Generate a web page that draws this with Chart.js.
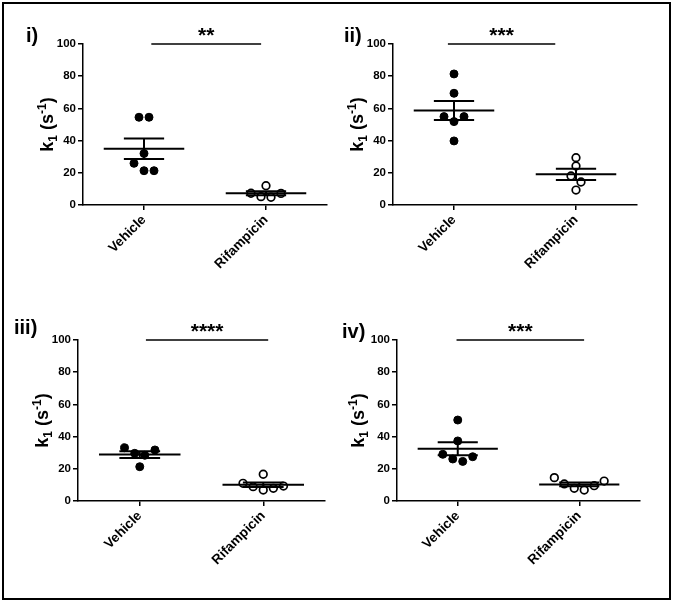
<!DOCTYPE html>
<html>
<head>
<meta charset="utf-8">
<script src="https://cdn.jsdelivr.net/npm/chart.js@4.4.0/dist/chart.umd.min.js"></script>
<style>
    body { margin: 0; width: 673px; height: 603px; background: #fff; position: relative; overflow: hidden; }
    .frame { position: absolute; left: 2px; top: 2px; width: 669px; height: 598px; box-sizing: border-box; border: 2px solid #000; }
    canvas { position: absolute; }
</style>
</head>
<body>
<div class="frame"></div>
<script>
// Data (k1 in s^-1)
const categories = ['Vehicle', 'Rifampicin'];
const panelLabels = ['i)', 'ii)', 'iii)', 'iv)'];
const yTickValues = [0, 20, 40, 60, 80, 100];

const vehicle1 = [54.5, 54.5, 32, 25.9, 21.3, 21.3];
const rifampicin1 = [12.0, 7.3, 7.2, 5.2, 4.8];
const vehicle2 = [81.4, 69.4, 54.9, 54.9, 51.8, 39.8];
const rifampicin2 = [29.4, 24.2, 18, 14.3, 9.3];
const vehicle3 = [33.1, 31.7, 29.6, 28.4, 21.3];
const rifampicin3 = [16.6, 11, 9.3, 8.9, 7.9, 6.8];
const vehicle4 = [50.3, 37.3, 29, 27.5, 26.1, 24.6];
const rifampicin4 = [14.5, 12.4, 10.6, 9.5, 7.9, 6.8];

// significance brackets (x in category units, drawn at y = 100)
const sigStars = ['**', '***', '****', '***'];
const sigStart = [1.06, 0.95, 1.05, 0.99];
const sigEnd = [1.96, 1.83, 2.04, 2.04];

const groups = [
    [vehicle1, rifampicin1],
    [vehicle2, rifampicin2],
    [vehicle3, rifampicin3],
    [vehicle4, rifampicin4]
];

// page layout of each panel (canvas box + wanted plot area)
const panelBoxes = [
    { left: 0,   top: 0,   w: 336, h: 300, area: { l: 83, r: 327, t: 44, b: 205 }, label: [26, 42], titleGap: 30 },
    { left: 336, top: 0,   w: 337, h: 300, area: { l: 57, r: 301, t: 44, b: 205 }, label: [8, 42],  titleGap: 30 },
    { left: 0,   top: 300, w: 336, h: 303, area: { l: 78, r: 325, t: 40, b: 201 }, label: [14, 34], titleGap: 30 },
    { left: 336, top: 300, w: 337, h: 303, area: { l: 61, r: 304, t: 40, b: 201 }, label: [6, 38],  titleGap: 33 }
];

const FONT = "'Liberation Sans', Arial, sans-serif";
const PX_PER_Y = 1.61;   // approx pixels per k1 unit
const PX_PER_X = 122;    // approx pixels per category unit
const CHAIN_PX = 7.5;
const SPACING_PX = 10;

// simple scatter-dot layout: near-equal values sit side by side
function swarm(values, center) {
    const sorted = values.slice().sort((a, b) => b - a);
    const rows = [];
    let row = [sorted[0]];
    for (let k = 1; k < sorted.length; k++) {
        if ((row[row.length - 1] - sorted[k]) * PX_PER_Y < CHAIN_PX) {
            row.push(sorted[k]);
        } else {
            rows.push(row);
            row = [sorted[k]];
        }
    }
    rows.push(row);

    const points = [];
    rows.forEach(r => {
        const n = r.length;
        let lo = 0, hi = n - 1;
        r.forEach((v, k) => {
            const slot = (k % 2 === 0) ? lo++ : hi--;
            const off = (slot - (n - 1) / 2) * SPACING_PX / PX_PER_X;
            points.push({ x: center + off, y: v });
        });
    });
    return points;
}

function meanSem(values) {
    const n = values.length;
    const m = values.reduce((a, b) => a + b, 0) / n;
    const sd = Math.sqrt(values.reduce((a, b) => a + (b - m) * (b - m), 0) / (n - 1));
    return { m: m, s: sd / Math.sqrt(n) };
}

function segment(x1, y1, x2, y2, width) {
    return {
        data: [{ x: x1, y: y1 }, { x: x2, y: y2 }],
        showLine: true,
        pointRadius: 0,
        borderColor: '#000',
        borderWidth: width,
        clip: false
    };
}

const decorPlugin = {
    id: 'decor',
    afterDraw(chart) {
        const p = chart.options.plugins.decor;
        const ctx = chart.ctx;
        const area = chart.chartArea;
        ctx.save();
        ctx.fillStyle = '#000';

        // panel label
        ctx.font = 'bold 20px ' + FONT;
        ctx.textAlign = 'left';
        ctx.textBaseline = 'alphabetic';
        ctx.fillText(p.label, p.labelPos[0], p.labelPos[1]);

        // significance stars
        const sx = chart.scales.x.getPixelForValue((p.sigStart + p.sigEnd) / 2);
        const sy = chart.scales.y.getPixelForValue(100);
        ctx.font = 'bold 21px ' + FONT;
        ctx.textAlign = 'center';
        ctx.fillText(p.stars, sx, sy - 2);

        // y axis title: k1 (s-1)
        const parts = [
            { t: 'k', size: 18, dy: 0 },
            { t: '1', size: 12, dy: 4 },
            { t: ' (s', size: 18, dy: 0 },
            { t: '-1', size: 12, dy: -7.5 },
            { t: ')', size: 18, dy: 0 }
        ];
        let total = 0;
        parts.forEach(pt => {
            ctx.font = 'bold ' + pt.size + 'px ' + FONT;
            pt.w = ctx.measureText(pt.t).width;
            total += pt.w;
        });
        ctx.translate(area.left - p.titleGap, (area.top + area.bottom) / 2);
        ctx.rotate(-Math.PI / 2);
        ctx.textAlign = 'left';
        let x = -total / 2;
        parts.forEach(pt => {
            ctx.font = 'bold ' + pt.size + 'px ' + FONT;
            ctx.fillText(pt.t, x, pt.dy);
            x += pt.w;
        });
        ctx.restore();
    }
};

panelBoxes.forEach((box, i) => {
    const canvas = document.createElement('canvas');
    canvas.width = box.w;
    canvas.height = box.h;
    canvas.style.left = box.left + 'px';
    canvas.style.top = box.top + 'px';
    document.body.appendChild(canvas);

    const datasets = [];
    // mean and SEM lines first so they sit on top of the dots
    groups[i].forEach((vals, g) => {
        const c = g + 1;
        const st = meanSem(vals);
        datasets.push(segment(c - 0.33, st.m, c + 0.33, st.m, 2));
        datasets.push(segment(c - 0.165, st.m + st.s, c + 0.165, st.m + st.s, 2));
        datasets.push(segment(c - 0.165, st.m - st.s, c + 0.165, st.m - st.s, 2));
        datasets.push(segment(c, st.m - st.s, c, st.m + st.s, 2));
    });
    datasets.push(segment(sigStart[i], 100, sigEnd[i], 100, 1.5));

    datasets.push({
        data: swarm(groups[i][1], 2),
        pointRadius: 3.8,
        pointBackgroundColor: '#fff',
        pointBorderColor: '#000',
        pointBorderWidth: 1.7,
        clip: false
    });
    datasets.push({
        data: swarm(groups[i][0], 1),
        pointRadius: 4,
        pointBackgroundColor: '#000',
        pointBorderColor: '#000',
        pointBorderWidth: 1,
        clip: false
    });

    const a = box.area;

    new Chart(canvas.getContext('2d'), {
        type: 'scatter',
        data: { datasets: datasets },
        options: {
            responsive: false,
            animation: false,
            events: [],
            layout: { padding: { top: a.t, right: box.w - a.r, left: 0, bottom: 0 } },
            plugins: {
                legend: { display: false },
                tooltip: { enabled: false },
                decor: {
                    label: panelLabels[i],
                    labelPos: box.label,
                    stars: sigStars[i],
                    sigStart: sigStart[i],
                    sigEnd: sigEnd[i],
                    titleGap: box.titleGap
                }
            },
            scales: {
                x: {
                    type: 'linear',
                    min: 0.5,
                    max: 2.5,
                    afterBuildTicks: s => { s.ticks = categories.map((c, k) => ({ value: k + 1 })); },
                    afterFit: s => { s.height = box.h - a.b; },
                    ticks: {
                        callback: v => categories[v - 1],
                        autoSkip: false,
                        minRotation: 45,
                        maxRotation: 45,
                        color: '#000',
                        padding: 2,
                        font: { family: FONT, size: 13.5, weight: 'bold' }
                    },
                    grid: { drawOnChartArea: false, drawTicks: true, tickLength: 5, color: '#000', lineWidth: 1.5 },
                    border: { color: '#000', width: 1.5 }
                },
                y: {
                    min: 0,
                    max: 100,
                    afterBuildTicks: s => { s.ticks = yTickValues.map(v => ({ value: v })); },
                    afterFit: s => { s.width = a.l; },
                    ticks: { color: '#000', padding: 2, font: { family: FONT, size: 11.5, weight: 'bold' } },
                    grid: { drawOnChartArea: false, drawTicks: true, tickLength: 5, color: '#000', lineWidth: 1.5 },
                    border: { color: '#000', width: 1.5 }
                }
            }
        },
        plugins: [decorPlugin]
    });
});
</script>
</body>
</html>
